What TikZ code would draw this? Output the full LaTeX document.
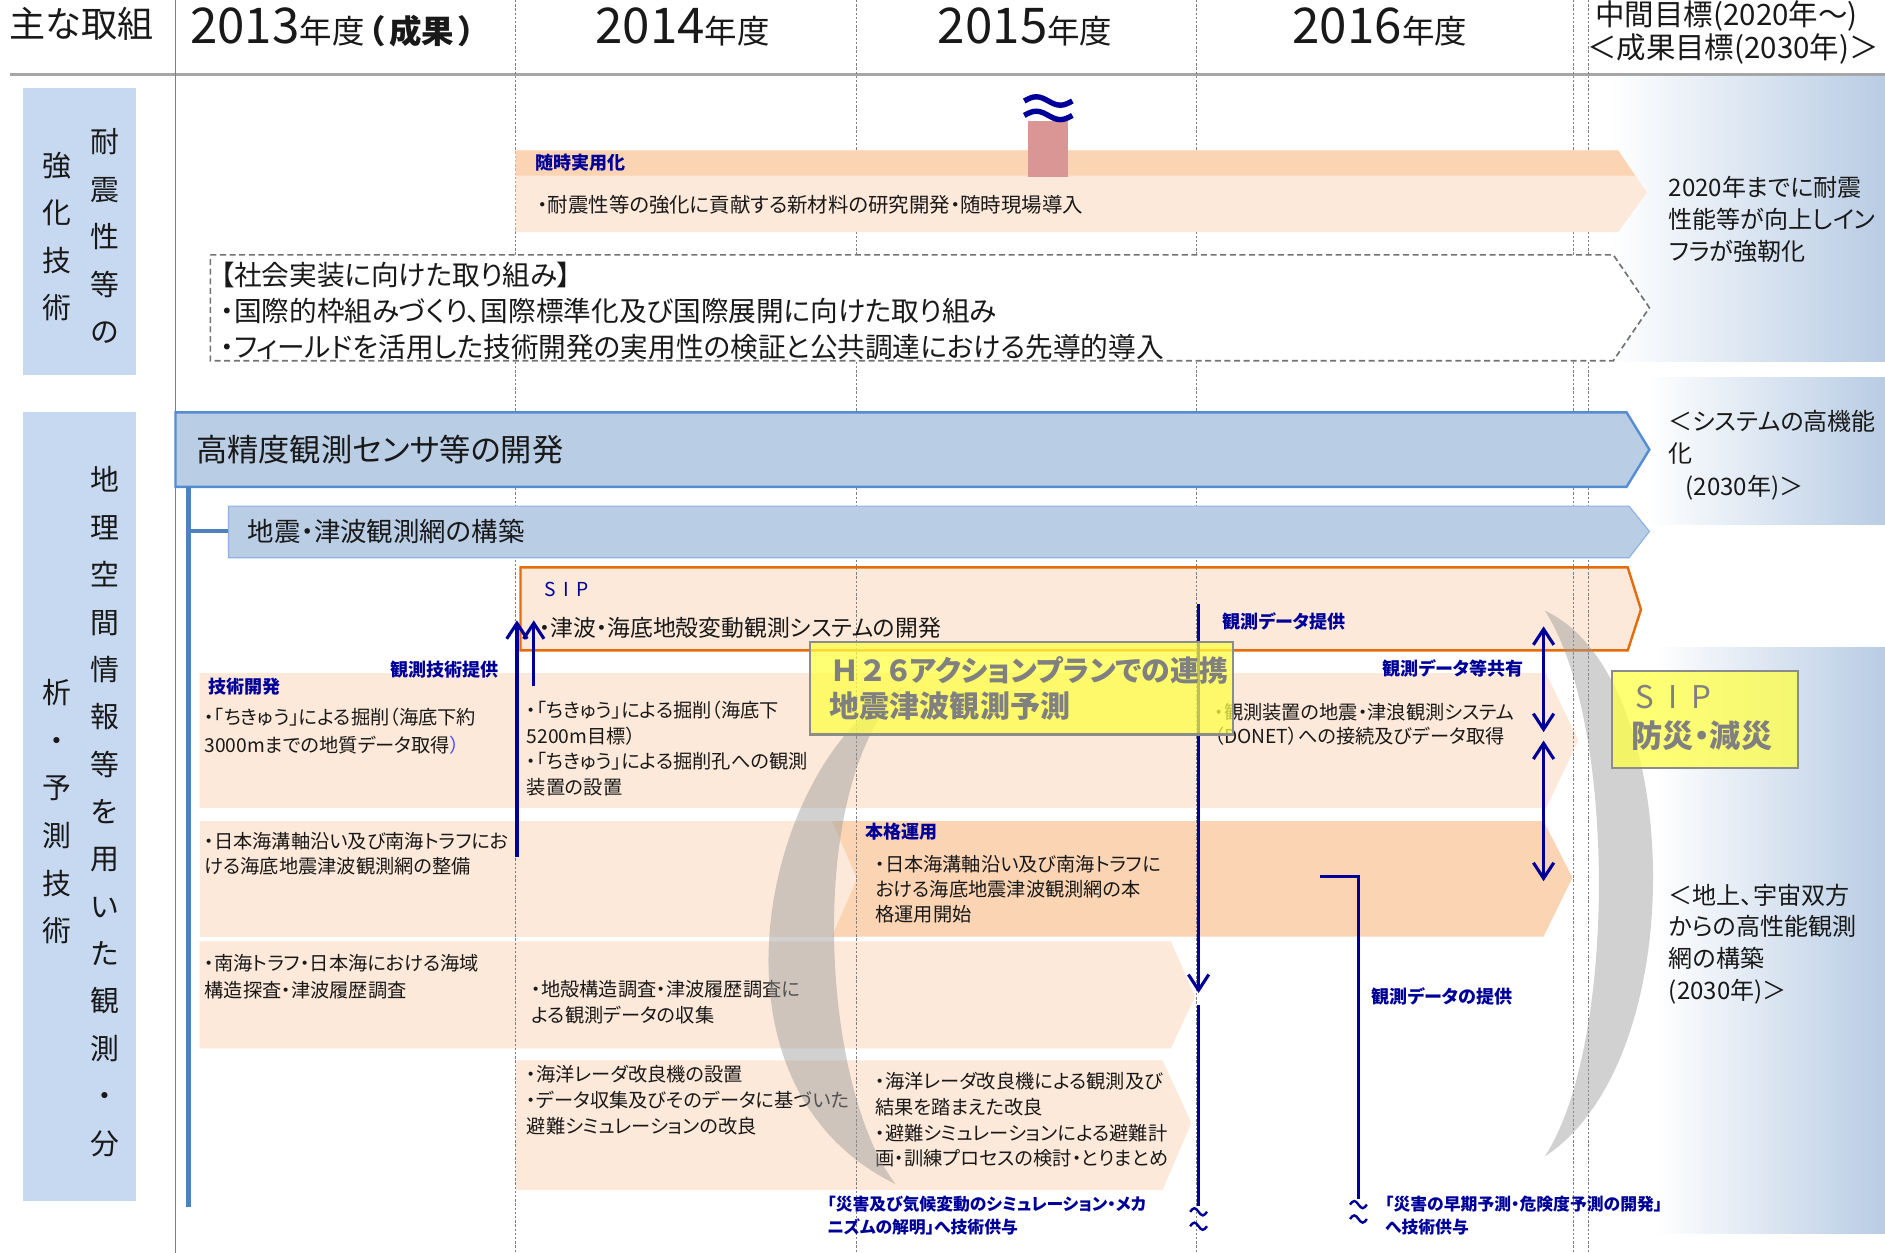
\documentclass[tikz,border=0pt]{standalone}
\usepackage{fontspec}
\setmainfont{Noto Sans CJK JP}[RawFeature=+palt]
\usetikzlibrary{arrows.meta}
\definecolor{navyc}{RGB}{0,0,153}
\definecolor{peach}{RGB}{253,233,217}
\definecolor{peachd}{RGB}{251,212,180}
\definecolor{rowblue}{RGB}{185,205,229}
\definecolor{labblue}{RGB}{198,217,241}
\definecolor{edgeblue}{RGB}{84,141,212}
\definecolor{edgeblue2}{RGB}{141,179,226}
\definecolor{linkblue}{RGB}{79,129,189}
\definecolor{orng}{RGB}{228,108,10}
\definecolor{pinkbar}{RGB}{217,150,148}
\definecolor{gradblue}{RGB}{184,204,228}
\definecolor{txtc}{RGB}{25,25,25}
\definecolor{graytxt}{RGB}{128,128,128}
\definecolor{yboxc}{RGB}{255,255,70}
\newcommand{\fsz}[2]{\fontsize{#1}{#2}\selectfont}
\tikzset{
  barbtip/.tip={Straight Barb[length=13pt,width=17pt,line width=2.6pt]},
  txtnw/.style={inner sep=0pt,anchor=north west,align=left,text=txtc},
  txtw/.style={inner sep=0pt,anchor=west,text=txtc},
  bluelab/.style={inner sep=0pt,anchor=west,text=navyc,font=\bfseries\fsz{15}{19}},
  bluenw/.style={inner sep=0pt,anchor=north west,align=left,text=navyc,font=\bfseries\fsz{14}{19}},
  vcol/.style={inner sep=0pt,anchor=north,align=center,text=txtc},
  navarr/.style={draw=navyc,line width=2.6pt},
  tildemark/.style={draw=navyc,line width=2pt},
  crescent/.style={fill=black!40,fill opacity=0.45},
  yel/.style={draw=black!45,line width=1.8pt,fill=yboxc,fill opacity=0.75,inner sep=0pt,anchor=north west},
  dashv/.style={draw=black!50,line width=0.7pt,dash pattern=on 2pt off 1.5pt},
  graybig/.style={inner sep=0pt,anchor=west,text=graytxt}
}
\begin{document}
\begin{tikzpicture}[x=1pt,y=-1pt]
\useasboundingbox (0,0) rectangle (1568,1042);
\fill[white] (0,0) rectangle (1568,1042);

% gradient panels
\shade[left color=white,right color=gradblue] (1340,63) rectangle (1568,301);
\shade[left color=white,right color=gradblue] (1370,314) rectangle (1568,436);
\shade[left color=white,right color=gradblue] (1376,539) rectangle (1568,1026);

% left label boxes
\fill[labblue] (19,73) rectangle (113,312);
\fill[labblue] (19,343) rectangle (113,999);

% peach rows
\fill[peach] (166,560) -- (1286,560) -- (1313,616) -- (1286,672) -- (166,672) -- cycle;
\fill[peach] (166,683) rectangle (715,779);
\fill[peachd] (692,683) -- (1284,683) -- (1308,730) -- (1284,779) -- (692,779) -- (713,731) -- cycle;
\fill[peach] (166,783) -- (974,783) -- (994,829) -- (974,872) -- (166,872) -- cycle;
\fill[peach] (429,882) -- (967,882) -- (991,934) -- (967,990) -- (429,990) -- cycle;
% SIP arrow box
\draw[fill=peach,draw=orng,line width=2pt] (433,472) -- (1354,472) -- (1365,507) -- (1354,541) -- (433,541) -- cycle;

% grid
\draw[black!35,line width=2.5pt] (8,62) -- (1568,62);
\draw[black!50,line width=0.8pt] (146,0) -- (146,1042);
\foreach \x in {429,712,995,1309,1321} \draw[dashv] (\x,0) -- (\x,1042);

% top band
\fill[peach] (429,125) -- (1346,125) -- (1370,160) -- (1346,193) -- (429,193) -- cycle;
\fill[peachd] (429,125) -- (1346,125) -- (1360,146) -- (429,146) -- cycle;
\fill[pinkbar] (855,101) rectangle (888,147);
\draw[navyc,line width=4.5pt] (852,84) sin (862,80.5) cos (872,84) sin (882,87.5) cos (892,84);
\draw[navyc,line width=4.5pt] (852,96) sin (862,92.5) cos (872,96) sin (882,99.5) cos (892,96);

% dashed box
\draw[fill=white,draw=black!55,line width=1.4pt,dash pattern=on 5pt off 3pt] (175,212) -- (1342,212) -- (1372,256) -- (1342,300) -- (175,300) -- cycle;

% blue arrows
\draw[fill=rowblue,draw=edgeblue,line width=2pt] (146,343) -- (1353,343) -- (1372,374) -- (1353,405) -- (146,405) -- cycle;
\draw[fill=rowblue,draw=edgeblue2,line width=1pt] (190,421) -- (1355,421) -- (1372,442) -- (1355,464) -- (190,464) -- cycle;
\coordinate (lk0) at (157,405);
\coordinate (lk1) at (157,1004);
\coordinate (lk2) at (157,442);
\coordinate (lk3) at (190,442);
\draw[linkblue,line width=4pt] (lk0) -- (lk1);
\draw[linkblue,line width=3.5pt] (lk2) -- (lk3);

% header texts
\node[inner sep=0pt,anchor=base west,text=txtc,font=\fsz{30}{30}] (hdr0) at (8,31) {主な取組};
\node[inner sep=0pt,anchor=base west,text=txtc] (hdr1) at (158,36) {{\fsz{41}{41}2013}{\fsz{27}{27}年度\hspace{3pt}\bfseries（\hspace{4pt}成果\hspace{4pt}）}};
\node[inner sep=0pt,anchor=base west,text=txtc] (hdr2) at (495,36) {{\fsz{41}{41}2014}{\fsz{27}{27}年度}};
\node[inner sep=0pt,anchor=base west,text=txtc] (hdr3) at (780,36) {{\fsz{41}{41}2015}{\fsz{27}{27}年度}};
\node[inner sep=0pt,anchor=base west,text=txtc] (hdr4) at (1075,36) {{\fsz{41}{41}2016}{\fsz{27}{27}年度}};
\node[inner sep=0pt,anchor=base west,text=txtc,font=\fsz{24.5}{24.5}] (hdr5) at (1327,21) {中間目標(2020年～)};
\node[inner sep=0pt,anchor=base west,text=txtc,font=\fsz{24.5}{24.5}] (hdr6) at (1320,49) {＜成果目標(2030年)＞};

% left label texts
\node[vcol,font=\fsz{24}{39.5}] (lab1r) at (87,107) {耐\\震\\性\\等\\の};
\node[vcol,font=\fsz{24}{39.5}] (lab1l) at (47,126) {強\\化\\技\\術};
\node[vcol,font=\fsz{24}{39.4}] (lab2r) at (87,388) {地\\理\\空\\間\\情\\報\\等\\を\\用\\い\\た\\観\\測\\・\\分};
\node[vcol,font=\fsz{24}{39.6}] (lab2l) at (47,565) {析\\・\\予\\測\\技\\術};

% right texts
\node[txtnw,font=\fsz{20}{27}] (goal1) at (1388,146) {2020年までに耐震\\性能等が向上しイン\\フラが強靭化};
\node[txtnw,font=\fsz{20}{27}] (goal2) at (1388,341) {＜システムの高機能\\化\\\hspace{14pt}(2030年)＞};
\node[txtnw,font=\fsz{20}{26.5}] (goal3) at (1388,735) {＜地上、宇宙双方\\からの高性能観測\\網の構築\\(2030年)＞};

% top band texts
\node[bluelab] (zuiji) at (445,135) {随時実用化};
\node[txtw,font=\fsz{17}{20}] (taishin) at (447,170) {・耐震性等の強化に貢献する新材料の研究開発・随時現場導入};
\node[txtnw,font=\fsz{23}{30}] (shakai) at (183,217.5) {【社会実装に向けた取り組み】\\・国際的枠組みづくり、国際標準化及び国際展開に向けた取り組み\\・フィールドを活用した技術開発の実用性の検証と公共調達における先導的導入};

% blue arrow texts
\node[txtw,font=\fsz{26}{26}] (kousei) at (163,374) {高精度観測センサ等の開発};
\node[txtw,font=\fsz{22}{22}] (jishin) at (206,442) {地震・津波観測網の構築};

% SIP box texts
\node[inner sep=0pt,anchor=west,text=navyc,font=\fsz{16}{16}] (sip) at (453,490) {S\hspace{6pt}I\hspace{6pt}P};
\node[txtw,font=\fsz{19}{19}] (tsunami) at (448,522) {・津波・海底地殻変動観測システムの開発};

% row A
\node[bluelab,anchor=east] (kgteikyo) at (415,557) {観測技術提供};
\node[bluelab] (gijutsu) at (173,571) {技術開発};
\node[txtnw,font=\fsz{16}{23}] (rA1) at (170,589) {・「ちきゅう」による掘削（海底下約\\3000mまでの地質データ取得{\color{blue!70!white}）}};
\node[txtnw,font=\fsz{16}{21.3}] (rA2) at (438,583) {・「ちきゅう」による掘削（海底下\\5200m目標）\\・「ちきゅう」による掘削孔への観測\\装置の設置};
\node[bluelab] (kdteikyo) at (1017,517) {観測データ提供};
\node[bluelab] (kdkyoyu) at (1150,556) {観測データ等共有};
\node[txtnw,font=\fsz{16}{20}] (rA3) at (1010,585) {・観測装置の地震・津浪観測システム\\（DONET）への接続及びデータ取得};

% row B
\node[txtnw,font=\fsz{16}{21}] (rB1) at (170,692) {・日本海溝軸沿い及び南海トラフにお\\ける海底地震津波観測網の整備};
\node[bluelab] (honkaku) at (720,692) {本格運用};
\node[txtnw,font=\fsz{16}{21}] (rB2) at (728,711) {・日本海溝軸沿い及び南海トラフに\\おける海底地震津波観測網の本\\格運用開始};

% row C
\node[txtnw,font=\fsz{16}{22}] (rC1) at (170,794) {・南海トラフ・日本海における海域\\構造探査・津波履歴調査};
\node[txtnw,font=\fsz{16}{22}] (rC2) at (442,815) {・地殻構造調査・津波履歴調査に\\よる観測データの収集};

% row D
\node[txtnw,font=\fsz{16}{21.5}] (rD1) at (438,886) {・海洋レーダ改良機の設置\\・データ収集及びそのデータに基づいた\\避難シミュレーションの改良};
\node[txtnw,font=\fsz{16}{21.3}] (rD2) at (728,892) {・海洋レーダ改良機による観測及び\\結果を踏まえた改良\\・避難シミュレーションによる避難計\\画・訓練プロセスの検討・とりまとめ};

% bottom blue texts
\node[bluenw] (bot1) at (688,995) {「災害及び気候変動のシミュレーション・メカ\\ニズムの解明」へ技術供与};
\node[bluenw] (bot2) at (1152,995) {「災害の早期予測・危険度予測の開発」\\へ技術供与};
\node[bluelab] (kdnoteikyo) at (1141,829) {観測データの提供};

% crescents
\fill[crescent] (755,570) .. controls (640,620) and (570,900) .. (745,985) .. controls (680,900) and (670,640) .. (755,570) -- cycle;
\fill[crescent] (1285,508) .. controls (1400,560) and (1410,880) .. (1285,962) .. controls (1345,870) and (1345,600) .. (1285,508) -- cycle;

% navy arrows
\coordinate (a1s) at (430,713); \coordinate (a1e) at (430,516);
\coordinate (a2s) at (444,571); \coordinate (a2e) at (444,516);
\coordinate (a3s) at (997,502); \coordinate (a3e) at (997,826);
\coordinate (a4s) at (997,836); \coordinate (a4e) at (997,1003);
\coordinate (b0) at (1098,729); \coordinate (b1) at (1130,729); \coordinate (b2) at (1130,997);
\coordinate (d1s) at (1284,521); \coordinate (d1e) at (1284,609);
\coordinate (d2s) at (1284,616); \coordinate (d2e) at (1284,733);
\draw[navarr,-barbtip] (a1s) -- (a1e);
\draw[navarr,-barbtip] (a2s) -- (a2e);
\draw[navarr,-barbtip] (a3s) -- (a3e);
\draw[navarr] (a4s) -- (a4e);
\draw[navarr] (b0) -- (b1) -- (b2);
\draw[navarr,barbtip-barbtip] (d1s) -- (d1e);
\draw[navarr,barbtip-barbtip] (d2s) -- (d2e);
\foreach \yy in {1008,1020} \draw[tildemark] (990,\yy) sin (993.5,\yy-3) cos (997,\yy) sin (1000.5,\yy+3) cos (1004,\yy);
\foreach \yy in {1002,1014} \draw[tildemark] (1123,\yy) sin (1126.5,\yy-3) cos (1130,\yy) sin (1133.5,\yy+3) cos (1137,\yy);

% yellow boxes
\node[yel,minimum width=352pt,minimum height=77pt] (h26box) at (673,533) {};
\node[graybig,font=\bfseries\fsz{24}{24}] (h26a) at (692,558) {Ｈ\hspace{3pt}２\hspace{3pt}６アクションプランでの連携};
\node[graybig,font=\bfseries\fsz{25}{25}] (h26b) at (690,587) {地震津波観測予測};
\node[yel,minimum width=155pt,minimum height=81pt] (sipbox) at (1340,557) {};
\node[graybig,font=\fsz{26}{26}] (sipa) at (1360,580) {S\hspace{12pt}I\hspace{12pt}P};
\node[graybig,font=\bfseries\fsz{26}{26}] (sipb) at (1357,612) {防災・減災};
\end{tikzpicture}
\end{document}
